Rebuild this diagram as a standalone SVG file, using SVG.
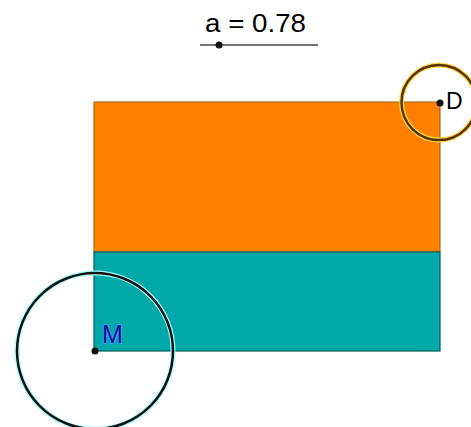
<svg xmlns="http://www.w3.org/2000/svg" width="471" height="427" viewBox="0 0 471 427">
<style>
text{font-family:"Liberation Sans",Arial,sans-serif;}
.halo{fill:none;stroke-width:5;}
.ring{fill:none;stroke-width:2.5;}
.pt{fill:#111;}
</style>
<rect width="471" height="427" fill="#fff"/>
<g id="slider">
<text x="205" y="32" font-size="26" textLength="101" lengthAdjust="spacingAndGlyphs" fill="#000">a = 0.78</text>
<line x1="200" y1="45" x2="318" y2="45" stroke="#444" stroke-width="1.3"/>
<circle cx="219" cy="45" r="3.5" class="pt"/>
</g>
<g id="orange-rect">
<rect x="94" y="102" width="346" height="150" fill="#ff8000" stroke="#a05a00" stroke-width="1"/>
</g>
<g id="teal-rect">
<rect x="94" y="252" width="346" height="99" fill="#00a8a8" stroke="#005f5f" stroke-width="1.2"/>
</g>
<g id="circle-D">
<circle cx="439" cy="102.5" r="37.5" class="halo" stroke="#ffd84a"/>
<circle cx="439" cy="102.5" r="37.5" class="ring" stroke="#5a3300"/>
</g>
<g id="circle-M">
<circle cx="95" cy="351" r="78" class="halo" stroke="#a8ffff"/>
<circle cx="95" cy="351" r="78" class="ring" stroke="#111"/>
</g>
<g id="point-D">
<circle cx="440" cy="103" r="3.5" class="pt"/>
<text x="446" y="109" font-size="23" fill="#000">D</text>
</g>
<g id="point-M">
<circle cx="95" cy="351" r="3.5" class="pt"/>
<text x="102" y="343" font-size="25" fill="#10108a" stroke="#3a9fff" stroke-width="2" paint-order="stroke">M</text>
</g>
</svg>
